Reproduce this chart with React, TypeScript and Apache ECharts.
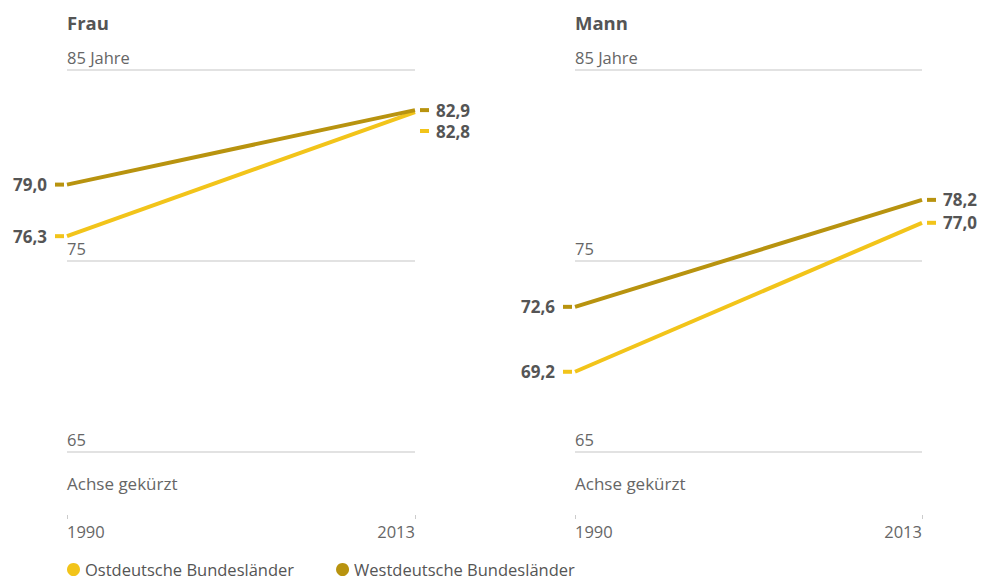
import React, { useEffect, useRef } from "react";
import * as echarts from "echarts";

// Lebenserwartung bei Geburt, 1990 und 2013
const years = ["1990", "2013"];
const frauOst = [76.3, 82.8];
const frauWest = [79.0, 82.9];
const mannOst = [69.2, 77.0];
const mannWest = [72.6, 78.2];
const yTicks = [65, 75, 85];
const seriesNames = ["Ostdeutsche Bundesländer", "Westdeutsche Bundesländer"];

const OST = "#f2c41a";
const WEST = "#b8930f";
const FONT = "'Open Sans', 'Noto Sans', sans-serif";
const TEXT = "#666";

const fmt = (v: number) => v.toFixed(1).replace(".", ",");

function endLabel(v: number, side: "left" | "right", color: string, dy = 0) {
  const t = fmt(v);
  return {
    show: true,
    position: side,
    distance: side === "left" ? 3 : 5,
    offset: [0, dy],
    formatter: side === "left" ? `{v|${t}}{d| }` : `{d| }{v|${t}}`,
    rich: {
      v: {
        fontFamily: FONT,
        fontSize: 17,
        lineHeight: 18,
        fontWeight: "bold",
        color: "#555",
        padding: side === "left" ? [0, 8, 0, 0] : [0, 0, 0, 7],
      },
      d: { width: 9, height: 4, backgroundColor: color },
    },
  };
}

function lineSeries(
  name: string,
  values: number[],
  color: string,
  idx: number,
  dyEnd = 0
) {
  return {
    name,
    type: "line",
    xAxisIndex: idx,
    yAxisIndex: idx,
    symbol: "circle",
    symbolSize: 0,
    lineStyle: { color, width: 4 },
    itemStyle: { color },
    data: values.map((v, i) => ({
      value: v,
      label: i === 0 ? endLabel(v, "left", color) : endLabel(v, "right", color, dyEnd),
    })),
  };
}

const grids = [
  { left: 67, right: 566, top: 70, bottom: 129 },
  { left: 575, right: 59, top: 70, bottom: 129 },
];

function xAxis(idx: number) {
  return {
    type: "category",
    gridIndex: idx,
    data: years,
    boundaryGap: false,
    offset: 63,
    axisLine: { show: false },
    axisTick: { show: true, length: 4, lineStyle: { color: "#ccc" } },
    axisLabel: {
      margin: 8,
      fontFamily: FONT,
      fontSize: 16.5,
      color: TEXT,
      alignMinLabel: "left",
      alignMaxLabel: "right",
    },
  };
}

function yAxis(idx: number) {
  return {
    type: "value",
    gridIndex: idx,
    min: yTicks[0],
    max: yTicks[yTicks.length - 1],
    interval: 10,
    axisLine: { show: false },
    axisTick: { show: false },
    splitLine: { lineStyle: { color: "#d8d8d8", width: 1.5 } },
    axisLabel: {
      inside: true,
      margin: 0,
      align: "left",
      verticalAlign: "bottom",
      padding: [0, 0, 4, 0],
      fontFamily: FONT,
      fontSize: 16.5,
      color: TEXT,
      formatter: (v: number) => (v === 85 ? "85 Jahre" : String(v)),
    },
  };
}

function label(text: string, left: number, top: number, size: number, bold = false) {
  return {
    type: "text",
    left,
    top,
    style: {
      text,
      fontFamily: FONT,
      fontSize: size,
      fontWeight: bold ? "bold" : "normal",
      fill: bold ? "#555" : TEXT,
    },
  };
}

export default function App() {
  const ref = useRef<HTMLDivElement>(null);

  useEffect(() => {
    if (!ref.current) return;
    const chart = echarts.init(ref.current, undefined, { renderer: "svg" });
    chart.setOption({
      animation: false,
      backgroundColor: "#fff",
      textStyle: { fontFamily: FONT },
      grid: grids,
      xAxis: [xAxis(0), xAxis(1)],
      yAxis: [yAxis(0), yAxis(1)],
      legend: {
        data: seriesNames,
        left: 62,
        top: 556,
        padding: 5,
        icon: "circle",
        itemWidth: 13,
        itemHeight: 13,
        itemGap: 42,
        textStyle: { fontFamily: FONT, fontSize: 16.5, color: "#555" },
      },
      graphic: [
        label("Frau", 67, 13, 18.5, true),
        label("Mann", 575, 13, 18.5, true),
        label("Achse gekürzt", 67, 475, 17),
        label("Achse gekürzt", 575, 475, 17),
      ],
      series: [
        lineSeries(seriesNames[0], frauOst, OST, 0, 19),
        lineSeries(seriesNames[1], frauWest, WEST, 0),
        lineSeries(seriesNames[0], mannOst, OST, 1),
        lineSeries(seriesNames[1], mannWest, WEST, 1),
      ],
    });
    return () => chart.dispose();
  }, []);

  return (
    <div
      ref={ref}
      style={{ position: "fixed", left: 0, top: 0, width: 981, height: 581 }}
    />
  );
}
